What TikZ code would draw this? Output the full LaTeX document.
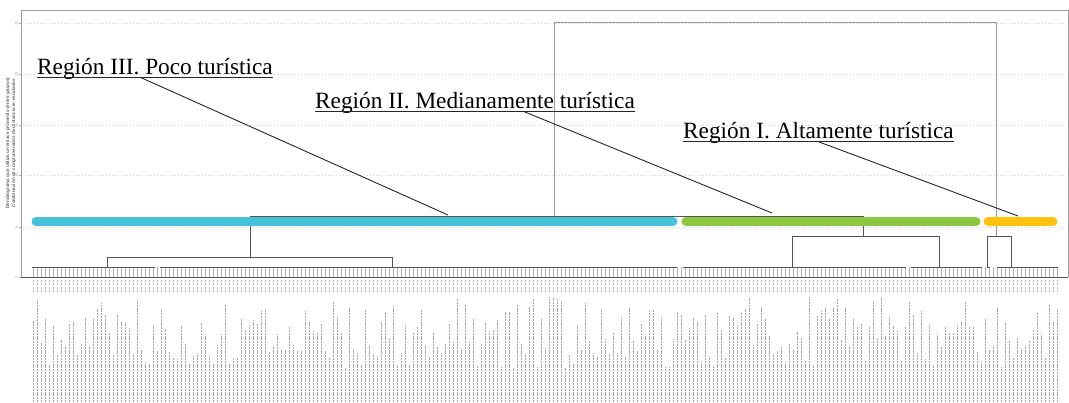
\documentclass[tikz,border=0pt]{standalone}
\usepackage{fontspec}
\setmainfont{Liberation Serif}
\newfontfamily\axisfont{Liberation Sans}
\usetikzlibrary{calc}
\definecolor{cI}{HTML}{FFC20E}
\definecolor{cII}{HTML}{8DC63F}
\definecolor{cIII}{HTML}{45C1D9}
\definecolor{dline}{HTML}{555555}
\tikzset{
  frame/.style={draw=gray!75, line width=0.9pt},
  grid/.style={draw=gray!35, line width=0.8pt, dash pattern=on 1pt off 2pt},
  link/.style={draw=dline, line width=1pt},
  toplink/.style={draw=gray!80, line width=1pt},
  leaf/.style={draw=gray!60, line width=0.6pt},
  bar/.style={line width=9pt, line cap=round},
  lbl/.style={anchor=base west, inner sep=0pt, font=\fontsize{23.3}{23.3}\selectfont},
  leader/.style={draw=black!85, line width=0.9pt},
  ghost/.style={draw=black!35, line width=0.9pt, dash pattern=on 2pt off 0.8pt},
  ticklbl/.style={font=\axisfont\fontsize{4}{4}\selectfont, text=gray!70, rotate=90, inner sep=0pt},
  ytitle/.style={font=\axisfont\bfseries\fontsize{4.6}{4.6}\selectfont, text=black!60, rotate=90, inner sep=0pt}
}
\begin{document}
\begin{tikzpicture}[x=1pt,y=-1pt]
\useasboundingbox (0,0) rectangle (1069,402);
% gridlines
\foreach \gy in {23,74,125,175,227} { \draw[grid] (25,\gy) -- (1066,\gy); }
% frame
\coordinate (ftl) at (21,10); \coordinate (ftr) at (1068,10);
\coordinate (fbl) at (21,277); \coordinate (fbr) at (1068,277);
\draw[frame] (fbl) -- (ftl) -- (ftr) -- (fbr);
\draw[frame, draw=dline] (fbl) -- (fbr);
% y ticks
\foreach \gy/\t in {23/25,74/20,125/15,175/10,227/5,277/0} {
  \draw[gray!70, line width=0.6pt] (19,\gy) -- (21,\gy);
  \node[ticklbl] (t\t) at (16.5,\gy) {\t};
}
\node[ytitle] (yt1) at (8,143) {Dendrograma que utiliza un enlace promedio (entre grupos)};
\node[ytitle] (yt2) at (14,143) {Combinación de conglomerados de distancia re-escalados};
% leaf ticks and label ghosts
\pgfmathsetseed{11}
\foreach \i in {0,...,256} {
  \pgfmathsetmacro\lx{33+4*\i}
  \pgfmathsetmacro\len{34+72*rnd}
  \draw[leaf] (\lx,267) -- (\lx,277);
  \draw[gray!55, line width=0.8pt, dash pattern=on 1.8pt off 1.6pt] (\lx,280) -- (\lx,292);
  \draw[ghost] (\lx,402) -- (\lx,{402-\len});
}
% leaf-level joins
\draw[link] (32,267) -- (155,267);
\draw[link] (160,267) -- (677,267);
\draw[link] (683,267) -- (906,267);
\draw[link] (911,267) -- (982,267);
\draw[link] (987,267) -- (990,267);
\draw[link] (997,267) -- (1058,267);
% dendrogram structure
\coordinate (a1) at (107,257); \coordinate (a2) at (392,257);
\coordinate (b1) at (250,216); \coordinate (b2) at (863,216);
\coordinate (g1) at (792,236); \coordinate (g2) at (939,236);
\coordinate (y1) at (987,236); \coordinate (y2) at (1011,236);
\coordinate (t1) at (554,22);  \coordinate (t2) at (996,22);
\draw[link] (a1|-0,267) -- (a1) -- (a2) -- (a2|-0,267);
\draw[link] (b1|-a1) -- (b1) -- (b2) -- (b2|-g1);
\draw[link] (g1|-0,267) -- (g1) -- (g2) -- (g2|-0,267);
\draw[link] (y1|-0,267) -- (y1) -- (y2) -- (y2|-0,267);
\draw[toplink] (t1|-b1) -- (t1) -- (t2) -- (t2|-y1);
% coloured bars
\draw[bar, cIII] (36,221.5) -- (673,221.5);
\draw[bar, cII] (686,221.5) -- (976,221.5);
\draw[bar, cI] (988,221.5) -- (1053,221.5);
% labels
\node[lbl] (rIII) at (37,74) {Región III. Poco turística};
\node[lbl] (rII) at (315,108) {Región II. Medianamente turística};
\node[lbl] (rI) at (683,138) {Región I. Altamente turística};
\foreach \n in {rIII,rII,rI} {
  \draw[black!85, line width=0.9pt] ($(\n.base west)+(0,3.2)$) -- ($(\n.base east)+(0,3.2)$);
}
\coordinate (lIII) at ($(rIII.base west)+(103,3.2)$);
\coordinate (lII) at ($(rII.base west)+(208,3.2)$);
\coordinate (lI) at ($(rI.base west)+(134,3.2)$);
\coordinate (eIII) at (448,215);
\coordinate (eII) at (772,213);
\coordinate (eI) at (1018,216);
\draw[leader] (lIII) -- (eIII);
\draw[leader] (lII) -- (eII);
\draw[leader] (lI) -- (eI);
\end{tikzpicture}
\end{document}
